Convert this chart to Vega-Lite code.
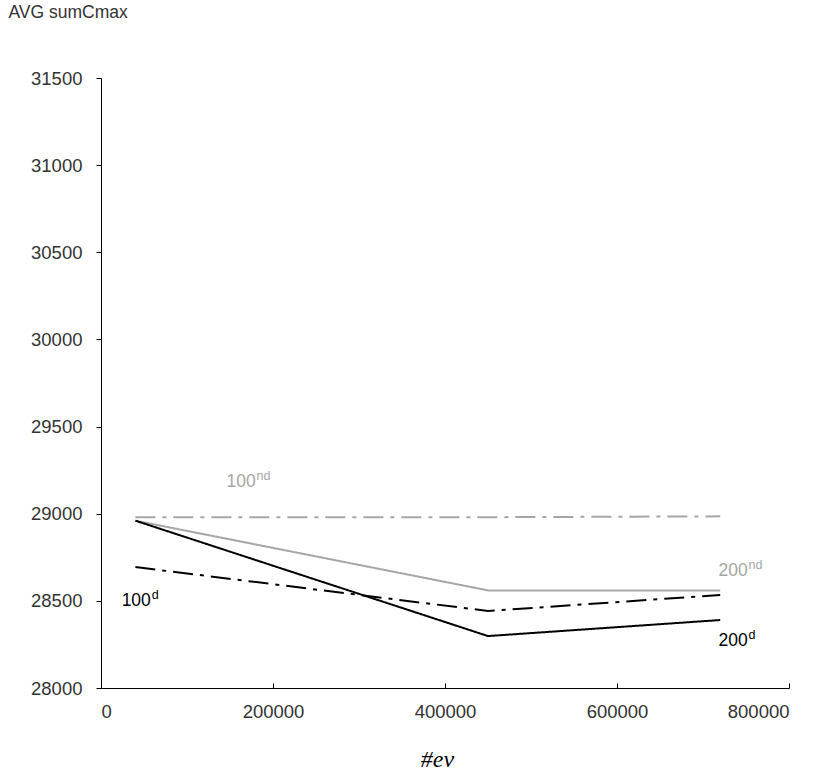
{
  "$schema": "https://vega.github.io/schema/vega-lite/v6.json",
  "width": 688,
  "height": 610,
  "autosize": {"type": "none"},
  "padding": {"left": 101, "top": 78, "right": 37, "bottom": 82},
  "background": "white",
  "config": {
    "view": {"stroke": null},
    "font": "Liberation Sans",
    "axis": {"grid": false, "domainColor": "black", "tickColor": "black", "labelColor": "#333333", "labelFont": "Liberation Sans", "labelFontSize": 18.5, "domainWidth": 1, "tickWidth": 1}
  },
  "datasets": {
    "lines": [
      {"ev": 40000, "val": 28980, "series": "100nd"},
      {"ev": 450000, "val": 28980, "series": "100nd"},
      {"ev": 720000, "val": 28985, "series": "100nd"},
      {"ev": 40000, "val": 28960, "series": "200nd"},
      {"ev": 450000, "val": 28560, "series": "200nd"},
      {"ev": 720000, "val": 28560, "series": "200nd"},
      {"ev": 40000, "val": 28694, "series": "100d"},
      {"ev": 450000, "val": 28442, "series": "100d"},
      {"ev": 720000, "val": 28534, "series": "100d"},
      {"ev": 40000, "val": 28960, "series": "200d"},
      {"ev": 450000, "val": 28298, "series": "200d"},
      {"ev": 720000, "val": 28390, "series": "200d"}
    ],
    "labels": [
      {"ev": 146000, "val": 29182, "base": "100", "sup": "nd", "series": "100nd"},
      {"ev": 24000, "val": 28500, "base": "100", "sup": "d", "series": "100d"},
      {"ev": 718000, "val": 28672, "base": "200", "sup": "nd", "series": "200nd"},
      {"ev": 718000, "val": 28270, "base": "200", "sup": "d", "series": "200d"}
    ]
  },
  "layer": [
    {
      "data": {"name": "lines"},
      "mark": {"type": "line", "strokeWidth": 2},
      "encoding": {
        "x": {"field": "ev", "type": "quantitative", "scale": {"domain": [0, 800000], "nice": false},
          "axis": {"values": [0, 200000, 400000, 600000, 800000], "format": "d", "tickSize": -5, "labelPadding": 19, "title": "#ev", "titleFont": "Liberation Serif", "titleFontStyle": "italic", "titleFontWeight": "normal", "titleFontSize": 24, "titleColor": "black", "titleX": 336, "titleY": 78, "titleBaseline": "alphabetic"}},
        "y": {"field": "val", "type": "quantitative", "scale": {"domain": [28000, 31500], "nice": false, "zero": false},
          "axis": {"values": [28000, 28500, 29000, 29500, 30000, 30500, 31000, 31500], "format": "d", "tickSize": 5, "labelPadding": 14, "title": "AVG sumCmax", "titleAngle": 0, "titleAlign": "left", "titleBaseline": "middle", "titleX": -93, "titleY": -66, "titleFontWeight": "normal", "titleFontSize": 17.5, "titleColor": "#333333"}},
        "color": {"field": "series", "type": "nominal", "scale": {"domain": ["100nd", "200nd", "100d", "200d"], "range": ["#a6a6a6", "#a6a6a6", "#000000", "#000000"]}, "legend": null},
        "strokeDash": {"field": "series", "type": "nominal", "scale": {"domain": ["100nd", "200nd", "100d", "200d"], "range": [[20, 7, 4, 7], [1, 0], [20, 7, 4, 7], [1, 0]]}, "legend": null}
      }
    },
    {
      "data": {"name": "labels"},
      "mark": {"type": "text", "align": "left", "baseline": "middle", "fontSize": 17.5, "font": "Liberation Sans"},
      "encoding": {
        "x": {"field": "ev", "type": "quantitative"},
        "y": {"field": "val", "type": "quantitative"},
        "text": {"field": "base"},
        "color": {"field": "series", "type": "nominal", "legend": null}
      }
    },
    {
      "data": {"name": "labels"},
      "mark": {"type": "text", "align": "left", "baseline": "middle", "fontSize": 12.5, "dx": 30, "dy": -6, "font": "Liberation Sans"},
      "encoding": {
        "x": {"field": "ev", "type": "quantitative"},
        "y": {"field": "val", "type": "quantitative"},
        "text": {"field": "sup"},
        "color": {"field": "series", "type": "nominal", "legend": null}
      }
    }
  ]
}
